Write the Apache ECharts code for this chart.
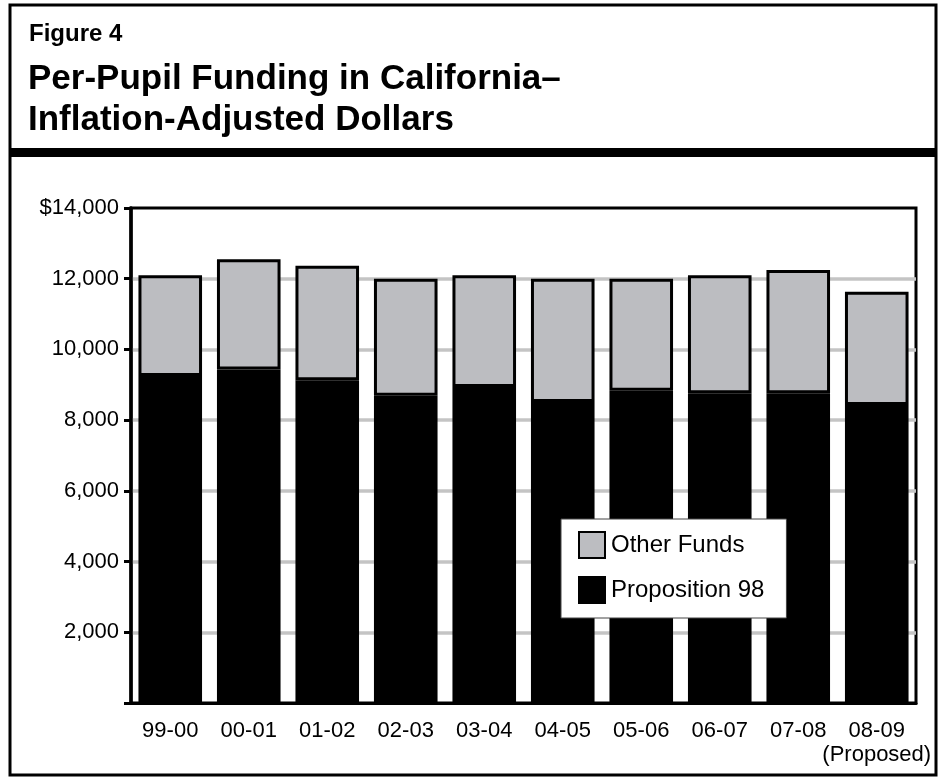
<!DOCTYPE html>
<html>
<head>
<meta charset="utf-8">
<script src="https://cdn.jsdelivr.net/npm/echarts@6/dist/echarts.min.js"></script>
<style>
  html, body { margin: 0; padding: 0; background: #fff; }
  #chart { width: 940px; height: 777px; }
</style>
</head>
<body>
<div id="chart"></div>
<script>
// School years on the category axis
var categories = ['99-00', '00-01', '01-02', '02-03', '03-04', '04-05', '05-06', '06-07', '07-08', '08-09'];
// Note printed under the last year
var proposedNote = '(Proposed)';
// Per-pupil dollars by source (inflation adjusted)
var proposition98 = [9250, 9430, 9130, 8690, 8940, 8510, 8830, 8760, 8760, 8430];
var otherFunds = [2850, 3120, 3240, 3310, 3160, 3490, 3170, 3340, 3490, 3200];
// Value-axis tick labels
var yTickLabels = { 14000: '$14,000', 12000: '12,000', 10000: '10,000', 8000: '8,000', 6000: '6,000', 4000: '4,000', 2000: '2,000', 0: '' };

var FONT = '"Liberation Sans", Arial, Helvetica, sans-serif';
var chart = echarts.init(document.getElementById('chart'), null, { renderer: 'canvas' });

chart.setOption({
  backgroundColor: '#fff',
  animation: false,
  textStyle: { fontFamily: FONT, color: '#000' },
  title: [
    {
      text: 'Figure 4',
      left: 24, top: 17,
      textStyle: { fontFamily: FONT, fontWeight: 'bold', fontSize: 24, color: '#000' }
    },
    {
      text: 'Per-Pupil Funding in California–\nInflation-Adjusted Dollars',
      left: 23, top: 54,
      textStyle: { fontFamily: FONT, fontWeight: 'bold', fontSize: 35, lineHeight: 41, color: '#000' }
    }
  ],
  graphic: [
    // outer frame
    { type: 'rect', shape: { x: 10, y: 5, width: 926, height: 770 }, style: { fill: null, stroke: '#000', lineWidth: 3 }, z: 100 },
    // heavy rule under the heading
    { type: 'rect', shape: { x: 10, y: 148, width: 926, height: 9 }, style: { fill: '#000' }, z: 100 }
  ],
  grid: {
    left: 131, right: 24, top: 208, bottom: 74,
    show: true, borderColor: '#000', borderWidth: 3, backgroundColor: 'transparent'
  },
  legend: {
    orient: 'vertical',
    left: 561, top: 519,
    data: ['Other Funds', 'Proposition 98'],
    itemWidth: 26, itemHeight: 26, itemGap: 17,
    padding: [12, 22, 14, 17],
    backgroundColor: '#fff',
    borderColor: '#444', borderWidth: 1,
    textStyle: { fontFamily: FONT, fontSize: 24, color: '#000', padding: [0, 0, 0, 1] },
    icon: 'rect'
  },
  xAxis: {
    type: 'category',
    data: categories,
    axisLine: { show: true, lineStyle: { color: '#000', width: 3 } },
    axisTick: { show: false },
    axisLabel: {
      interval: 0,
      margin: 16,
      fontFamily: FONT, fontSize: 22, color: '#000', lineHeight: 24,
      formatter: function (v, i) { return i === categories.length - 1 ? v + '\n' + proposedNote : v; }
    }
  },
  yAxis: {
    type: 'value',
    min: 0, max: 14000, interval: 2000,
    axisLine: { show: true, lineStyle: { color: '#000', width: 3.5 } },
    axisTick: { show: true, inside: false, length: 7, lineStyle: { color: '#000', width: 3 } },
    axisLabel: {
      margin: 12,
      fontFamily: FONT, fontSize: 22, color: '#000',
      formatter: function (v) { return yTickLabels[v] !== undefined ? yTickLabels[v] : ''; }
    },
    splitLine: { show: true, showMinLine: false, showMaxLine: false, lineStyle: { color: '#c4c4c4', width: 3.5 } }
  },
  series: [
    {
      name: 'Proposition 98',
      type: 'bar', stack: 'funds',
      data: proposition98,
      barCategoryGap: '19%',
      itemStyle: { color: '#000', borderColor: '#000', borderWidth: 3 }
    },
    {
      name: 'Other Funds',
      type: 'bar', stack: 'funds',
      data: otherFunds,
      barCategoryGap: '19%',
      itemStyle: { color: '#bcbdc1', borderColor: '#000', borderWidth: 3 }
    }
  ]
});
</script>
</body>
</html>
